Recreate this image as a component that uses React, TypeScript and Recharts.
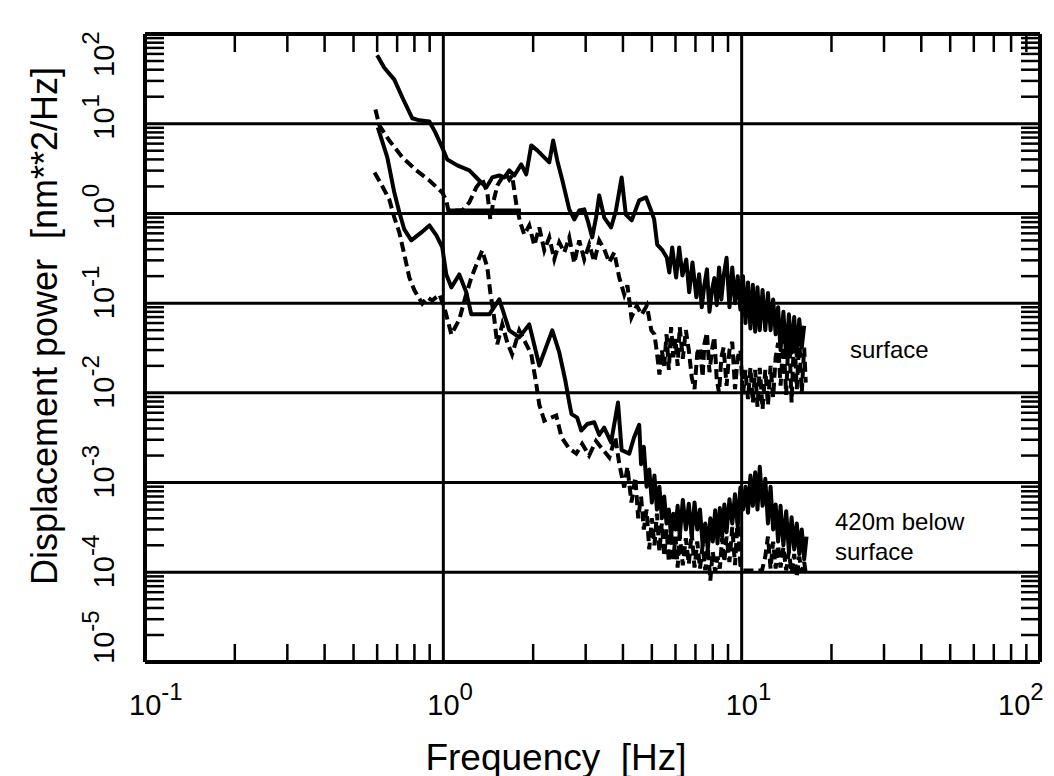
import React from "react";
import { LineChart, Line, XAxis, YAxis, ReferenceLine } from "recharts";

// ---------- data (frequency [Hz], displacement power [nm^2/Hz]) ----------
const SURFACE_SOLID: [number, number][] = [
  [0.6, 58], [0.634, 42], [0.685, 31], [0.729, 19.6], [0.787, 11.5], [0.831, 10.9], [0.898, 10.6], [0.94, 8.0],
  [0.992, 5.4], [1.031, 4.0], [1.114, 3.43], [1.222, 3.02], [1.32, 2.33], [1.393, 1.95], [1.459, 2.52], [1.54, 2.65],
  [1.601, 2.52], [1.664, 3.02], [1.729, 2.65], [1.825, 3.52], [1.896, 2.72], [1.971, 5.73], [2.065, 5.04], [2.146, 4.43],
  [2.265, 3.7], [2.334, 6.5], [2.409, 3.9], [2.507, 2.33], [2.643, 1.11], [2.747, 0.857], [2.855, 1.08], [2.967, 1.11],
  [3.06, 0.794], [3.155, 0.54], [3.25, 0.9], [3.331, 1.59], [3.462, 0.9], [3.65, 0.698], [3.79, 1.08], [3.96, 2.52],
  [4.09, 0.97], [4.28, 0.836], [4.535, 1.4], [4.78, 1.51], [4.97, 1.08], [5.09, 0.857], [5.21, 0.45], [5.43, 0.387],
  [5.61, 0.323], [5.72, 0.22], [5.85, 0.418], [6.03, 0.193], [6.175, 0.418], [6.33, 0.203], [6.52, 0.307], [6.67, 0.132],
  [6.84, 0.284], [7.05, 0.116], [7.2, 0.21], [7.35, 0.09], [7.5, 0.16], [7.65, 0.238], [7.8, 0.08], [7.95, 0.14],
  [8.1, 0.19], [8.25, 0.095], [8.4, 0.25], [8.55, 0.11], [8.7, 0.2], [8.9, 0.32], [9.1, 0.09], [9.3, 0.25], [9.5, 0.1],
  [9.7, 0.2], [9.9, 0.085], [10.1, 0.2], [10.3, 0.06], [10.5, 0.17], [10.7, 0.052], [10.9, 0.16], [11.1, 0.048],
  [11.3, 0.15], [11.5, 0.05], [11.75, 0.14], [12.0, 0.05], [12.25, 0.13], [12.5, 0.05], [12.75, 0.11], [13.0, 0.045],
  [13.25, 0.09], [13.5, 0.03], [13.8, 0.08], [14.1, 0.025], [14.4, 0.075], [14.7, 0.028], [15.0, 0.07], [15.3, 0.026],
  [15.6, 0.066], [15.9, 0.032], [16.2, 0.056],
];

const SURFACE_DASHED: [number, number][] = [
  [0.592, 14.4], [0.61, 9.6], [0.659, 6.5], [0.729, 4.21], [0.812, 3.02], [0.898, 2.33], [0.992, 1.71], [1.023, 1.4],
  [1.039, 1.08], [1.158, 1.08], [1.222, 1.33], [1.29, 1.95], [1.351, 2.39], [1.404, 1.71], [1.437, 0.857], [1.47, 1.33],
  [1.517, 2.05], [1.576, 2.52], [1.625, 2.72], [1.664, 2.39], [1.7, 2.65], [1.757, 1.26], [1.81, 0.794], [1.868, 0.58],
  [1.941, 0.735], [2.018, 0.44], [2.097, 0.698], [2.18, 0.387], [2.265, 0.54], [2.354, 0.307], [2.447, 0.475], [2.543, 0.367],
  [2.643, 0.54], [2.747, 0.28], [2.855, 0.5], [2.967, 0.307], [3.084, 0.45], [3.205, 0.29], [3.331, 0.5], [3.462, 0.4],
  [3.598, 0.284], [3.74, 0.367], [3.887, 0.193], [4.04, 0.125], [4.14, 0.158], [4.27, 0.0693], [4.45, 0.094], [4.62, 0.074],
  [4.81, 0.094], [4.98, 0.0497], [5.1, 0.045], [5.2, 0.028], [5.3, 0.016], [5.4, 0.03], [5.5, 0.02], [5.6, 0.045],
  [5.7, 0.018], [5.8, 0.054], [5.9, 0.025], [6.0, 0.04], [6.1, 0.02], [6.2, 0.054], [6.35, 0.024], [6.5, 0.05], [6.65, 0.03],
  [6.8, 0.015], [6.95, 0.011], [7.1, 0.028], [7.25, 0.032], [7.4, 0.015], [7.5, 0.035], [7.65, 0.047], [7.8, 0.017],
  [7.95, 0.03], [8.1, 0.042], [8.25, 0.014], [8.4, 0.01], [8.55, 0.025], [8.7, 0.032], [8.9, 0.012], [9.1, 0.03], [9.3, 0.037],
  [9.5, 0.011], [9.7, 0.025], [9.9, 0.03], [10.1, 0.0095], [10.3, 0.018], [10.5, 0.0085], [10.7, 0.019], [10.9, 0.0078],
  [11.1, 0.018], [11.3, 0.007], [11.5, 0.019], [11.75, 0.0066], [12.0, 0.018], [12.25, 0.0073], [12.5, 0.02], [12.75, 0.0089],
  [13.0, 0.025], [13.25, 0.036], [13.5, 0.012], [13.8, 0.04], [14.1, 0.0095], [14.4, 0.054], [14.7, 0.0078], [15.0, 0.047],
  [15.3, 0.011], [15.6, 0.04], [15.9, 0.01], [16.2, 0.032], [16.4, 0.013],
];

const SURFACE_FLAT: [number, number][] = [
  [1.039, 1.08], [1.82, 1.08],
];

const BELOW_SOLID: [number, number][] = [
  [0.603, 9.1], [0.649, 4.21], [0.685, 1.71], [0.712, 1.03], [0.74, 0.663], [0.781, 0.5], [0.844, 0.614], [0.898, 0.735],
  [0.948, 0.568], [0.992, 0.418], [1.023, 0.209], [1.064, 0.15], [1.131, 0.209], [1.194, 0.132], [1.241, 0.075], [1.426, 0.075],
  [1.54, 0.11], [1.664, 0.0497], [1.797, 0.0415], [1.941, 0.058], [2.097, 0.0202], [2.318, 0.0497], [2.447, 0.0282],
  [2.56, 0.0141], [2.643, 0.0078], [2.69, 0.0058], [2.81, 0.0053], [2.9, 0.0038], [3.04, 0.0045], [3.205, 0.0047],
  [3.33, 0.0034], [3.46, 0.0041], [3.65, 0.0028], [3.85, 0.0078], [3.96, 0.0023], [4.2, 0.0021], [4.36, 0.0032],
  [4.535, 0.0044], [4.6, 0.0016], [4.7, 0.0025], [4.8, 0.0009], [4.9, 0.0014], [5.0, 0.0006], [5.1, 0.0012], [5.2, 0.0005],
  [5.3, 0.0009], [5.4, 0.0004], [5.5, 0.0007], [5.6, 0.00035], [5.7, 0.0005], [5.8, 0.00025], [5.9, 0.00045], [6.0, 0.0003],
  [6.1, 0.00055], [6.2, 0.00025], [6.35, 0.00064], [6.5, 0.0003], [6.65, 0.00058], [6.8, 0.00025], [6.95, 0.0006],
  [7.1, 0.0003], [7.25, 0.0005], [7.4, 0.0002], [7.55, 0.00035], [7.7, 0.00018], [7.85, 0.0004], [8.0, 0.00022],
  [8.15, 0.00049], [8.3, 0.00021], [8.45, 0.00052], [8.6, 0.00025], [8.75, 0.00057], [8.9, 0.00028], [9.1, 0.00065],
  [9.3, 0.00035], [9.5, 0.00074], [9.7, 0.00032], [9.9, 0.00088], [10.1, 0.0005], [10.3, 0.0009], [10.5, 0.00046],
  [10.7, 0.0012], [10.9, 0.00055], [11.1, 0.0013], [11.3, 0.0005], [11.5, 0.0015], [11.75, 0.00055], [12.0, 0.0011],
  [12.25, 0.00035], [12.5, 0.0009], [12.75, 0.0003], [13.0, 0.00057], [13.25, 0.00022], [13.5, 0.00055], [13.8, 0.0002],
  [14.1, 0.00048], [14.4, 0.00017], [14.7, 0.00041], [15.0, 0.00018], [15.3, 0.00035], [15.6, 0.00016], [15.9, 0.0003],
  [16.2, 0.00014], [16.5, 0.00025],
];

const BELOW_DASHED: [number, number][] = [
  [0.588, 2.86], [0.62, 2.1], [0.659, 1.43], [0.685, 0.9], [0.712, 0.614], [0.74, 0.349], [0.769, 0.193], [0.8, 0.139],
  [0.85, 0.099], [0.884, 0.116], [0.918, 0.107], [0.97, 0.125], [1.008, 0.0896], [1.064, 0.0448], [1.131, 0.0658],
  [1.185, 0.116], [1.241, 0.193], [1.3, 0.284], [1.35, 0.387], [1.404, 0.25], [1.437, 0.132], [1.48, 0.0693], [1.516, 0.0347],
  [1.576, 0.058], [1.638, 0.0365], [1.7, 0.0268], [1.797, 0.0497], [1.897, 0.0347], [1.971, 0.027], [2.05, 0.0124],
  [2.097, 0.0074], [2.18, 0.0049], [2.3, 0.0053], [2.39, 0.0056], [2.49, 0.0032], [2.64, 0.0024], [2.79, 0.0021],
  [2.92, 0.0027], [3.08, 0.002], [3.25, 0.0029], [3.4, 0.0024], [3.6, 0.0019], [3.77, 0.0032], [3.89, 0.0016], [4.04, 0.00088],
  [4.14, 0.0015], [4.27, 0.0006], [4.4, 0.00114], [4.5, 0.0004], [4.6, 0.0007], [4.7, 0.0003], [4.8, 0.0005], [4.9, 0.00018],
  [5.0, 0.0004], [5.1, 0.0002], [5.2, 0.00045], [5.3, 0.00017], [5.4, 0.00035], [5.5, 0.00015], [5.6, 0.0003], [5.7, 0.00013],
  [5.8, 0.00028], [5.9, 0.00014], [6.0, 0.00025], [6.1, 0.000113], [6.2, 0.00026], [6.35, 0.00012], [6.5, 0.00024],
  [6.65, 0.000123], [6.8, 0.00028], [6.95, 0.000113], [7.1, 0.00022], [7.25, 0.00011], [7.4, 0.0002], [7.55, 0.000105],
  [7.7, 0.00019], [7.85, 0.000081], [8.0, 0.00017], [8.15, 0.0001], [8.3, 0.00015], [8.45, 0.00011], [8.6, 0.00024],
  [8.75, 0.00013], [8.9, 0.00025], [9.1, 0.00013], [9.3, 0.00032], [9.5, 0.00012], [9.7, 0.00041], [9.9, 0.00012],
  [10.1, 0.000105], [11.7, 0.000105], [12.0, 0.00015], [12.25, 0.00025], [12.5, 0.00011], [12.75, 0.00022], [13.0, 0.00011],
  [13.25, 0.0002], [13.5, 0.000113], [13.8, 0.00019], [14.1, 0.000105], [14.4, 0.00017], [14.7, 0.000097], [15.0, 0.00016],
  [15.3, 0.000088], [15.6, 0.00015], [15.9, 0.0001], [16.2, 0.00013], [16.4, 0.000097],
];

// ---------- axes ----------
const X_TICKS = [
  0.1, 0.2, 0.3, 0.4, 0.5, 0.6, 0.7, 0.8, 0.9,
  1, 2, 3, 4, 5, 6, 7, 8, 9,
  10, 20, 30, 40, 50, 60, 70, 80, 90, 100,
];
const Y_DECADES = [1e-5, 1e-4, 1e-3, 1e-2, 1e-1, 1, 10];
const Y_MANTISSAS = [1, 2, 3, 4, 5, 6, 7, 8, 9];
const Y_TICKS = [...Y_DECADES.flatMap((d) => Y_MANTISSAS.map((m) => m * d)), 100];
const H_GRID = [1e-4, 1e-3, 1e-2, 1e-1, 1, 10];
const V_GRID = [1, 10];

const X_TITLE = "Frequency  [Hz]";
const Y_TITLE = "Displacement power  [nm**2/Hz]";
const NOTE_SURFACE = "surface";
const NOTE_BELOW_1 = "420m below";
const NOTE_BELOW_2 = "surface";

const FONT = '"Liberation Sans", Arial, Helvetica, sans-serif';
const W = 1046;
const H = 768;

const rows = (pts: [number, number][]) => pts.map(([f, p]) => ({ f, p }));

const exponentOf = (v: number) => {
  const e = Math.log10(v);
  const r = Math.round(e);
  return Math.abs(e - r) < 1e-6 ? r : null;
};

const TICK_W = 2.5;

const BottomTick = (props: any) => {
  const { x, y, payload } = props;
  const e = exponentOf(payload.value);
  if (e !== null) {
    const x0 = e === 2 ? x - 42 : x - 16;
    return (
      <text x={x0} y={y + 53} fontSize={29} fontFamily={FONT} fill="#000">
        <tspan>10</tspan>
        <tspan dy={-15} fontSize={24}>{String(e)}</tspan>
      </text>
    );
  }
  return <line x1={x} y1={y} x2={x} y2={y - 18} stroke="#000" strokeWidth={TICK_W} />;
};

const TopTick = (props: any) => {
  const { x, y, payload } = props;
  if (exponentOf(payload.value) !== null) return <g />;
  return <line x1={x} y1={y} x2={x} y2={y + 18} stroke="#000" strokeWidth={TICK_W} />;
};

const LeftTick = (props: any) => {
  const { x, y, payload } = props;
  const e = exponentOf(payload.value);
  if (e !== null) {
    const bx = x - 31;
    const start = e === 2 ? -43 : e === -5 ? -2 : -16;
    return (
      <text x={bx + start} y={y} transform={`rotate(-90 ${bx} ${y})`} fontSize={29} fontFamily={FONT} fill="#000">
        <tspan>10</tspan>
        <tspan dy={-15} fontSize={24}>{String(e)}</tspan>
      </text>
    );
  }
  return <line x1={x} y1={y} x2={x + 19} y2={y} stroke="#000" strokeWidth={TICK_W} />;
};

const RightTick = (props: any) => {
  const { x, y, payload } = props;
  if (exponentOf(payload.value) !== null) return <g />;
  return <line x1={x} y1={y} x2={x - 19} y2={y} stroke="#000" strokeWidth={TICK_W} />;
};

const axisLine = { stroke: "#000", strokeWidth: 4 };
const LINE_W = 4;

export default function App() {
  return (
    <div style={{ position: "relative", width: W, height: H, background: "#fff" }}>
      <LineChart width={W} height={H} margin={{ top: 16, right: 4, bottom: 84, left: 77 }}>
        <XAxis
          xAxisId="x"
          dataKey="f"
          type="number"
          scale="log"
          domain={[0.1, 100]}
          allowDataOverflow
          ticks={X_TICKS}
          interval={0}
          tickLine={false}
          tickSize={0}
          tickMargin={0}
          axisLine={axisLine}
          tick={(p: any) => <BottomTick {...p} />}
          height={30}
        />
        <XAxis
          xAxisId="xt"
          orientation="top"
          dataKey="f"
          type="number"
          scale="log"
          domain={[0.1, 100]}
          allowDataOverflow
          ticks={X_TICKS}
          interval={0}
          tickLine={false}
          tickSize={0}
          tickMargin={0}
          axisLine={axisLine}
          tick={(p: any) => <TopTick {...p} />}
          height={10}
        />
        <YAxis
          yAxisId="y"
          type="number"
          scale="log"
          domain={[1e-5, 100]}
          allowDataOverflow
          ticks={Y_TICKS}
          interval={0}
          tickLine={false}
          tickSize={0}
          tickMargin={0}
          axisLine={axisLine}
          tick={(p: any) => <LeftTick {...p} />}
          width={60}
        />
        <YAxis
          yAxisId="yr"
          orientation="right"
          type="number"
          scale="log"
          domain={[1e-5, 100]}
          allowDataOverflow
          ticks={Y_TICKS}
          interval={0}
          tickLine={false}
          tickSize={0}
          tickMargin={0}
          axisLine={axisLine}
          tick={(p: any) => <RightTick {...p} />}
          width={10}
        />
        {H_GRID.map((v) => (
          <ReferenceLine key={"h" + v} xAxisId="x" yAxisId="y" y={v} stroke="#000" strokeWidth={3} />
        ))}
        {V_GRID.map((v) => (
          <ReferenceLine key={"v" + v} xAxisId="x" yAxisId="y" x={v} stroke="#000" strokeWidth={3} />
        ))}
        <Line xAxisId="x" yAxisId="y" data={rows(SURFACE_SOLID)} dataKey="p" type="linear" dot={false}
          stroke="#000" strokeWidth={LINE_W} strokeLinejoin="round" isAnimationActive={false} />
        <Line xAxisId="x" yAxisId="y" data={rows(SURFACE_DASHED)} dataKey="p" type="linear" dot={false}
          stroke="#000" strokeWidth={LINE_W} strokeDasharray="10 5" isAnimationActive={false} />
        <Line xAxisId="x" yAxisId="y" data={rows(SURFACE_FLAT)} dataKey="p" type="linear" dot={false}
          stroke="#000" strokeWidth={LINE_W} isAnimationActive={false} />
        <Line xAxisId="x" yAxisId="y" data={rows(BELOW_SOLID)} dataKey="p" type="linear" dot={false}
          stroke="#000" strokeWidth={LINE_W} strokeLinejoin="round" isAnimationActive={false} />
        <Line xAxisId="x" yAxisId="y" data={rows(BELOW_DASHED)} dataKey="p" type="linear" dot={false}
          stroke="#000" strokeWidth={LINE_W} strokeDasharray="10 5" isAnimationActive={false} />
      </LineChart>
      <svg width={W} height={H} style={{ position: "absolute", left: 0, top: 0, pointerEvents: "none", overflow: "visible" }}>
        <text x={548} y={762} textAnchor="middle" fontSize={37} fontFamily={FONT} fill="#000" style={{ whiteSpace: "pre" }}>
          {X_TITLE}
        </text>
        <text x={49} y={318} transform="rotate(-90 49 318)" textAnchor="middle" fontSize={36} fontFamily={FONT} fill="#000"
          style={{ whiteSpace: "pre" }}>
          {Y_TITLE}
        </text>
        <text x={842} y={350} fontSize={24} fontFamily={FONT} fill="#000">{NOTE_SURFACE}</text>
        <text x={827} y={522} fontSize={24} fontFamily={FONT} fill="#000">{NOTE_BELOW_1}</text>
        <text x={827} y={552} fontSize={24} fontFamily={FONT} fill="#000">{NOTE_BELOW_2}</text>
      </svg>
    </div>
  );
}
